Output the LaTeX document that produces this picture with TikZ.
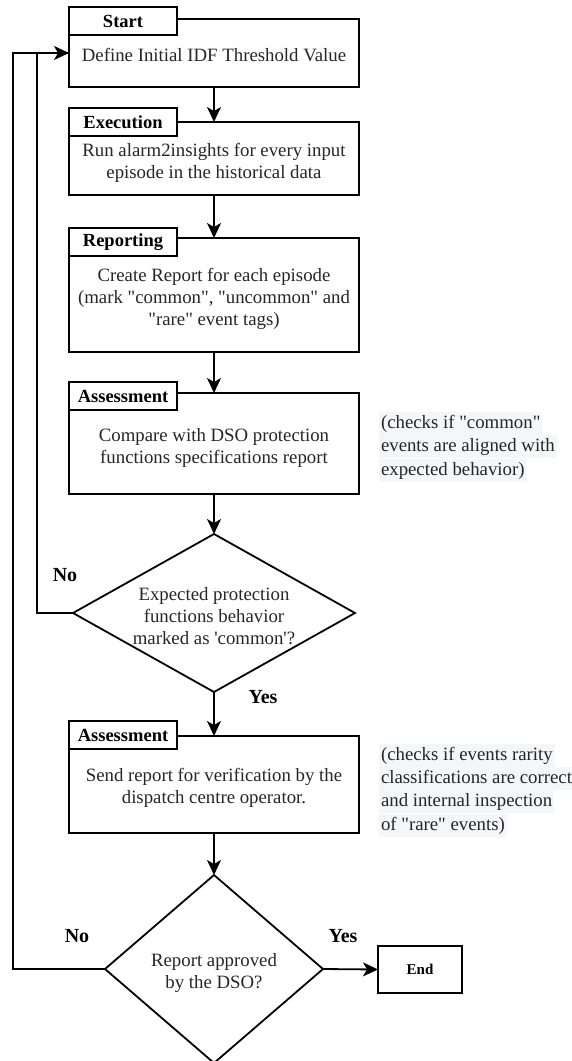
\documentclass[tikz,border=0pt]{standalone}
\usepackage{fontspec}
\setmainfont{Liberation Serif}
\usetikzlibrary{shapes.geometric,arrows.meta}
\definecolor{txt}{RGB}{38,38,38}
\definecolor{notebg}{RGB}{245,246,249}
\newcommand\myTopStrut[1]{\rule{0pt}{#1}}
\begin{document}
\begin{tikzpicture}[x=1pt,y=-1pt,
  every node/.style={inner sep=0pt, outer sep=0pt},
  mainbox/.style={draw, line width=1.8pt, fill=white, minimum width=290pt, align=center,
    font=\fontsize{18.8}{22}\selectfont, text=txt},
  tagbox/.style={draw, line width=1.8pt, fill=white, minimum width=108pt, minimum height=28pt,
    anchor=north west, font=\bfseries\fontsize{18.5}{22}\selectfont},
  decision/.style={draw, diamond, line width=1.8pt},
  dectext/.style={align=center, font=\fontsize{18.8}{22}\selectfont, text=txt},
  lbl/.style={font=\bfseries\fontsize{20}{24}\selectfont},
  noteline/.style={anchor=base west, fill=notebg, inner xsep=2pt, inner ysep=2pt,
    text height=14pt, text depth=5pt, font=\fontsize{18.8}{22}\selectfont, text=txt},
  flow/.style={line width=1.8pt, -{Stealth[length=15pt,width=14pt,inset=4pt]}},
  link/.style={line width=1.8pt}
]
\useasboundingbox (0,0) rectangle (572,1061);

% process boxes
\node[mainbox, minimum height=68pt] (start) at (214,53) {\myTopStrut{17pt}Define Initial IDF Threshold Value};
\node[tagbox] (starttag) at (69,7) {Start};

\node[mainbox, minimum height=73pt] (exec) at (214,158.5) {\myTopStrut{21pt}Run alarm2insights for every input\\episode in the historical data};
\node[tagbox] (exectag) at (69,108) {Execution};

\node[mainbox, minimum height=114pt] (rep) at (214,295) {\myTopStrut{21pt}Create Report for each episode\\(mark \textquotedbl common\textquotedbl, \textquotedbl uncommon\textquotedbl{} and\\\textquotedbl rare\textquotedbl{} event tags)};
\node[tagbox] (reptag) at (69,228) {Reporting};

\node[mainbox, minimum height=101pt] (ass1) at (214,443.5) {\myTopStrut{21pt}Compare with DSO protection\\functions specifications report};
\node[tagbox] (ass1tag) at (69,382) {Assessment};

\node[decision, minimum width=282pt, minimum height=158pt] (d1) at (214,613) {};
\node[dectext] (d1text) at (214,616) {Expected protection\\functions behavior\\marked as \textquotesingle common\textquotesingle?};

\node[mainbox, minimum height=97pt] (ass2) at (214,784.5) {\myTopStrut{20pt}Send report for verification by the\\dispatch centre operator.};
\node[tagbox] (ass2tag) at (69,721) {Assessment};

\node[decision, minimum width=218pt, minimum height=188pt] (d2) at (214,969) {};
\node[dectext] (d2text) at (214,973) {Report approved\\by the DSO?};

\node[draw, line width=1.8pt, minimum width=84pt, minimum height=47pt,
  font=\bfseries\fontsize{15}{18}\selectfont] (end) at (420,969.5) {End};

% labels
\node[lbl] (no1) at (65,575) {No};
\node[lbl] (yes1) at (263,697) {Yes};
\node[lbl] (no2) at (77,936) {No};
\node[lbl] (yes2) at (343,936) {Yes};

% notes
\node[noteline] (n1a) at (379,428) {(checks if \textquotedbl common\textquotedbl};
\node[noteline] (n1b) at (379,451) {events are aligned with};
\node[noteline] (n1c) at (379,475) {expected behavior)};

\node[noteline] (n2a) at (379,760) {(checks if events rarity};
\node[noteline] (n2b) at (379,783) {classifications are correct};
\node[noteline] (n2c) at (379,806) {and internal inspection};
\node[noteline] (n2d) at (379,830) {of \textquotedbl rare\textquotedbl{} events)};

% connectors
\draw[flow] (start.south) -- (exec.north);
\draw[flow] (exec.south) -- (rep.north);
\draw[flow] (rep.south) -- (ass1.north);
\draw[flow] (ass1.south) -- (d1.north);
\draw[flow] (d1.south) -- (ass2.north);
\draw[flow] (ass2.south) -- (d2.north);
\draw[flow] (d2.east) -- (end.west);

\coordinate (loopin) at (37,613);
\coordinate (loopout) at (13,969);
\draw[link] (d1.west) -- (loopin) |- (start.west);
\draw[flow] (d2.west) -- (loopout) |- (start.west);
\end{tikzpicture}
\end{document}
